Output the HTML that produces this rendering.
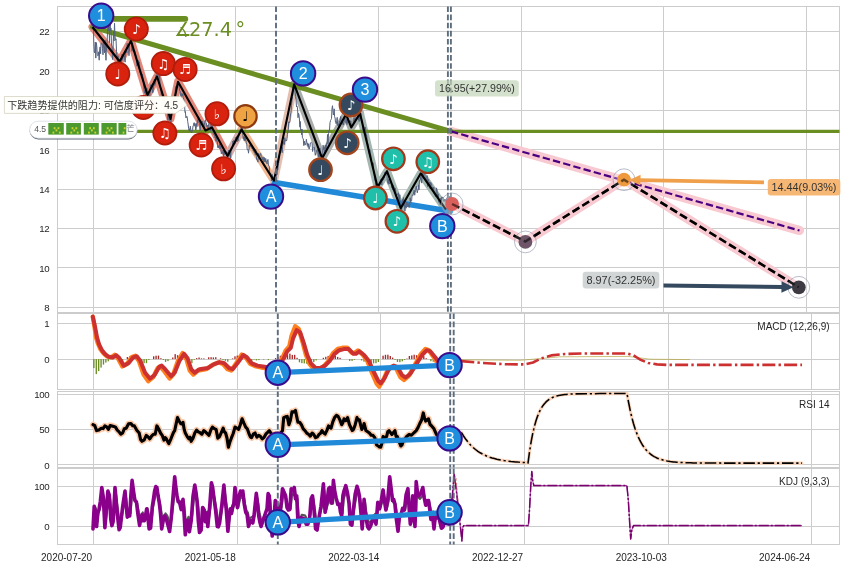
<!DOCTYPE html>
<html lang="zh">
<head>
<meta charset="utf-8">
<title>Elliott wave chart</title>
<style>
html,body{margin:0;padding:0;background:#ffffff;}
body{width:845px;height:568px;overflow:hidden;font-family:"Liberation Sans","Noto Sans CJK SC",sans-serif;}
svg text{white-space:pre;}
</style>
</head>
<body>
<svg width="845" height="568" viewBox="0 0 845 568" style="display:block">
<rect width="845" height="568" fill="#ffffff"/>
<defs>
<clipPath id="c_main"><rect x="57.5" y="6.5" width="782" height="306"/></clipPath>
<clipPath id="c_macd"><rect x="57.5" y="313.5" width="782" height="76"/></clipPath>
<clipPath id="c_rsi"><rect x="57.5" y="391.5" width="782" height="76"/></clipPath>
<clipPath id="c_kdj"><rect x="57.5" y="468.5" width="782" height="76"/></clipPath>
</defs>
<rect x="57.5" y="6.5" width="782" height="306" fill="#ffffff" stroke="none"/>
<line x1="93.5" y1="6.5" x2="93.5" y2="312.5" stroke="#cdcdcd" stroke-width="1" />
<line x1="235.5" y1="6.5" x2="235.5" y2="312.5" stroke="#cdcdcd" stroke-width="1" />
<line x1="378.5" y1="6.5" x2="378.5" y2="312.5" stroke="#cdcdcd" stroke-width="1" />
<line x1="521.5" y1="6.5" x2="521.5" y2="312.5" stroke="#cdcdcd" stroke-width="1" />
<line x1="663.5" y1="6.5" x2="663.5" y2="312.5" stroke="#cdcdcd" stroke-width="1" />
<line x1="806.5" y1="6.5" x2="806.5" y2="312.5" stroke="#cdcdcd" stroke-width="1" />
<line x1="57.5" y1="31.5" x2="839.5" y2="31.5" stroke="#cdcdcd" stroke-width="1" />
<text x="49.3" y="35.4" font-size="9.7" text-anchor="end" fill="#262626" font-family='"Liberation Sans", "Noto Sans CJK SC", sans-serif' letter-spacing="-0.35">22</text>
<line x1="57.5" y1="70.5" x2="839.5" y2="70.5" stroke="#cdcdcd" stroke-width="1" />
<text x="49.3" y="74.8" font-size="9.7" text-anchor="end" fill="#262626" font-family='"Liberation Sans", "Noto Sans CJK SC", sans-serif' letter-spacing="-0.35">20</text>
<line x1="57.5" y1="110.5" x2="839.5" y2="110.5" stroke="#cdcdcd" stroke-width="1" />
<text x="49.3" y="114.2" font-size="9.7" text-anchor="end" fill="#262626" font-family='"Liberation Sans", "Noto Sans CJK SC", sans-serif' letter-spacing="-0.35">18</text>
<line x1="57.5" y1="149.5" x2="839.5" y2="149.5" stroke="#cdcdcd" stroke-width="1" />
<text x="49.3" y="153.6" font-size="9.7" text-anchor="end" fill="#262626" font-family='"Liberation Sans", "Noto Sans CJK SC", sans-serif' letter-spacing="-0.35">16</text>
<line x1="57.5" y1="189.5" x2="839.5" y2="189.5" stroke="#cdcdcd" stroke-width="1" />
<text x="49.3" y="193" font-size="9.7" text-anchor="end" fill="#262626" font-family='"Liberation Sans", "Noto Sans CJK SC", sans-serif' letter-spacing="-0.35">14</text>
<line x1="57.5" y1="228.5" x2="839.5" y2="228.5" stroke="#cdcdcd" stroke-width="1" />
<text x="49.3" y="232.4" font-size="9.7" text-anchor="end" fill="#262626" font-family='"Liberation Sans", "Noto Sans CJK SC", sans-serif' letter-spacing="-0.35">12</text>
<line x1="57.5" y1="267.5" x2="839.5" y2="267.5" stroke="#cdcdcd" stroke-width="1" />
<text x="49.3" y="271.8" font-size="9.7" text-anchor="end" fill="#262626" font-family='"Liberation Sans", "Noto Sans CJK SC", sans-serif' letter-spacing="-0.35">10</text>
<line x1="57.5" y1="307.5" x2="839.5" y2="307.5" stroke="#cdcdcd" stroke-width="1" />
<text x="49.3" y="311.2" font-size="9.7" text-anchor="end" fill="#262626" font-family='"Liberation Sans", "Noto Sans CJK SC", sans-serif' letter-spacing="-0.35">8</text>
<rect x="57.5" y="313.5" width="782" height="76" fill="#ffffff" stroke="none"/>
<line x1="93.5" y1="313.5" x2="93.5" y2="389.5" stroke="#cdcdcd" stroke-width="1" />
<line x1="237.5" y1="313.5" x2="237.5" y2="389.5" stroke="#cdcdcd" stroke-width="1" />
<line x1="380.5" y1="313.5" x2="380.5" y2="389.5" stroke="#cdcdcd" stroke-width="1" />
<line x1="524.5" y1="313.5" x2="524.5" y2="389.5" stroke="#cdcdcd" stroke-width="1" />
<line x1="668.5" y1="313.5" x2="668.5" y2="389.5" stroke="#cdcdcd" stroke-width="1" />
<line x1="811.5" y1="313.5" x2="811.5" y2="389.5" stroke="#cdcdcd" stroke-width="1" />
<line x1="57.5" y1="323.5" x2="839.5" y2="323.5" stroke="#cdcdcd" stroke-width="1" />
<text x="49.3" y="327.2" font-size="9.7" text-anchor="end" fill="#262626" font-family='"Liberation Sans", "Noto Sans CJK SC", sans-serif' letter-spacing="-0.35">1</text>
<line x1="57.5" y1="359.5" x2="839.5" y2="359.5" stroke="#cdcdcd" stroke-width="1" />
<text x="49.3" y="363.1" font-size="9.7" text-anchor="end" fill="#262626" font-family='"Liberation Sans", "Noto Sans CJK SC", sans-serif' letter-spacing="-0.35">0</text>
<rect x="57.5" y="391.5" width="782" height="76" fill="#ffffff" stroke="none"/>
<line x1="93.5" y1="391.5" x2="93.5" y2="467.5" stroke="#cdcdcd" stroke-width="1" />
<line x1="237.5" y1="391.5" x2="237.5" y2="467.5" stroke="#cdcdcd" stroke-width="1" />
<line x1="380.5" y1="391.5" x2="380.5" y2="467.5" stroke="#cdcdcd" stroke-width="1" />
<line x1="524.5" y1="391.5" x2="524.5" y2="467.5" stroke="#cdcdcd" stroke-width="1" />
<line x1="668.5" y1="391.5" x2="668.5" y2="467.5" stroke="#cdcdcd" stroke-width="1" />
<line x1="811.5" y1="391.5" x2="811.5" y2="467.5" stroke="#cdcdcd" stroke-width="1" />
<line x1="57.5" y1="394.5" x2="839.5" y2="394.5" stroke="#cdcdcd" stroke-width="1" />
<text x="49.3" y="398.4" font-size="9.7" text-anchor="end" fill="#262626" font-family='"Liberation Sans", "Noto Sans CJK SC", sans-serif' letter-spacing="-0.35">100</text>
<line x1="57.5" y1="429.5" x2="839.5" y2="429.5" stroke="#cdcdcd" stroke-width="1" />
<text x="49.3" y="433.3" font-size="9.7" text-anchor="end" fill="#262626" font-family='"Liberation Sans", "Noto Sans CJK SC", sans-serif' letter-spacing="-0.35">50</text>
<line x1="57.5" y1="464.5" x2="839.5" y2="464.5" stroke="#cdcdcd" stroke-width="1" />
<text x="49.3" y="468.5" font-size="9.7" text-anchor="end" fill="#262626" font-family='"Liberation Sans", "Noto Sans CJK SC", sans-serif' letter-spacing="-0.35">0</text>
<rect x="57.5" y="468.5" width="782" height="76" fill="#ffffff" stroke="none"/>
<line x1="93.5" y1="468.5" x2="93.5" y2="544.5" stroke="#cdcdcd" stroke-width="1" />
<line x1="237.5" y1="468.5" x2="237.5" y2="544.5" stroke="#cdcdcd" stroke-width="1" />
<line x1="380.5" y1="468.5" x2="380.5" y2="544.5" stroke="#cdcdcd" stroke-width="1" />
<line x1="524.5" y1="468.5" x2="524.5" y2="544.5" stroke="#cdcdcd" stroke-width="1" />
<line x1="668.5" y1="468.5" x2="668.5" y2="544.5" stroke="#cdcdcd" stroke-width="1" />
<line x1="811.5" y1="468.5" x2="811.5" y2="544.5" stroke="#cdcdcd" stroke-width="1" />
<line x1="57.5" y1="486.5" x2="839.5" y2="486.5" stroke="#cdcdcd" stroke-width="1" />
<text x="49.3" y="490.3" font-size="9.7" text-anchor="end" fill="#262626" font-family='"Liberation Sans", "Noto Sans CJK SC", sans-serif' letter-spacing="-0.35">100</text>
<line x1="57.5" y1="526.5" x2="839.5" y2="526.5" stroke="#cdcdcd" stroke-width="1" />
<text x="49.3" y="530" font-size="9.7" text-anchor="end" fill="#262626" font-family='"Liberation Sans", "Noto Sans CJK SC", sans-serif' letter-spacing="-0.35">0</text>
<rect x="57.5" y="6.5" width="782" height="306" fill="none" stroke="#cccccc" stroke-width="1"/>
<rect x="57.5" y="313.5" width="782" height="76" fill="none" stroke="#cccccc" stroke-width="1"/>
<rect x="57.5" y="391.5" width="782" height="76" fill="none" stroke="#cccccc" stroke-width="1"/>
<rect x="57.5" y="468.5" width="782" height="76" fill="none" stroke="#cccccc" stroke-width="1"/>
<polyline points="452.1,204 525.3,241.5 624,179.7 798.8,287.3" fill="none" stroke="#f8c9d0" stroke-width="9.2" stroke-linecap="round" stroke-linejoin="round"/>
<polyline points="451,131.4 799.5,230.5" fill="none" stroke="#f8c9d0" stroke-width="9.2" stroke-linecap="round"/>
<polyline points="92.5,27 119.6,61.5 131,41 147.5,95 157,76.5 170.5,119 178,81.7 205.5,130.5 212,127.5 227.5,156" fill="none" stroke="#e2887a" stroke-width="8" stroke-linecap="round" stroke-linejoin="round"/>
<polyline points="227.5,156 241.6,129.6" fill="none" stroke="#d4afad" stroke-width="8" stroke-linecap="round" stroke-linejoin="round"/>
<polyline points="241.6,129.6 274,180.6" fill="none" stroke="#f1b790" stroke-width="8" stroke-linecap="round" stroke-linejoin="round"/>
<polyline points="274,180.6 294.2,84.3" fill="none" stroke="#e4bfaf" stroke-width="8" stroke-linecap="round" stroke-linejoin="round"/>
<polyline points="294.2,84.3 322.2,158.3 346,114.3 351.3,127.5 360,113.4" fill="none" stroke="#a9adab" stroke-width="8" stroke-linecap="round" stroke-linejoin="round"/>
<polyline points="360,113.4 377.5,187 387,171.2 400.7,208.2 420.8,173.3 446,209.6" fill="none" stroke="#a3b7b0" stroke-width="8" stroke-linecap="round" stroke-linejoin="round"/>
<line x1="57.5" y1="131.4" x2="839.5" y2="131.4" stroke="#6b8e23" stroke-width="3.4" />
<line x1="92.5" y1="27" x2="451" y2="131.4" stroke="#6b8e23" stroke-width="5" stroke-linecap="round"/>
<line x1="101" y1="18.9" x2="185.3" y2="18.9" stroke="#6b8e23" stroke-width="5.8" stroke-linecap="round"/>
<text y="35.9" font-size="19.3" fill="#6b8e23" font-family='"DejaVu Sans", "Liberation Sans", sans-serif'><tspan x="174.3">∡</tspan><tspan x="189">27.4</tspan><tspan x="235.6">°</tspan></text>
<line x1="274.5" y1="182.6" x2="450.5" y2="211.3" stroke="#2089d8" stroke-width="5.6" stroke-linecap="round"/>
<polyline points="92.5,27 93,28.2 93.4,25.1 93.8,43.7 94.3,52 94.8,52.9 95.3,42.1 95.8,58.1 96.3,42.5 96.8,46.6 97.3,54.6 97.8,55.8 98.2,55.6 98.7,51.8 99.2,60.2 99.7,49.1 100.1,46.9 100.6,53.8 101,43.3 101.5,43.4 102,42.8 102.5,48.3 103,54.8 103.5,39.5 104,48.1 104.5,52.9 105,40.1 105.5,52.3 106,60.3 106.5,45.8 107,44.3 107.5,31.5 108,22.5 108.5,30.9 109,19.8 109.5,42.7 110,18.1 110.5,30.8 111,28.2 111.5,45 112,46.2 112.5,59.5 113,51.1 113.5,31.7 114,41 114.5,23.3 115,36 115.5,40.2 116,38.8 116.5,51.3 117,57.5 117.5,62.1 118,55.7 118.5,68.8 119.1,62.6 119.6,77.3 120.1,59.1 120.6,59.2 121,63.5 121.5,62.1 122,54.2 122.5,60.2 122.9,57.9 123.4,56.5 123.8,53.9 124.2,55.3 124.6,56.9 125.1,62.2 125.5,51.8 125.9,51.6 126.4,49.7 126.8,53.1 127.2,43.4 127.6,46.7 128.1,45 128.5,45.7 129,55.7 129.5,45.2 130,42.4 130.5,29.1 131,38.5 131.5,42.3 132,51.2 132.5,42.8 133,48.6 133.4,51.4 133.9,52.2 134.3,49.9 134.7,51 135.1,51.3 135.6,54.6 136,55.6 136.4,59.8 136.9,66.1 137.3,64.6 137.7,64.1 138.1,65.8 138.6,60.5 139,65.7 139.4,62.1 139.9,70 140.3,72.9 140.7,69.7 141.1,74.2 141.6,73 142,77.9 142.4,74.1 142.9,77.9 143.3,82.5 143.7,86.9 144.1,90.8 144.6,93.2 145,90.1 145.5,91.8 146,96.6 146.5,88 147,88.2 147.5,94.3 148,94.8 148.5,95.5 149,94.8 149.5,99.3 150,93.7 150.4,86.1 150.9,84.5 151.3,84.8 151.8,87.3 152.2,86.8 152.6,92.9 153.1,92 153.5,87 153.9,85.2 154.4,79.3 154.8,85.4 155.2,84.5 155.7,82 156.1,75.1 156.6,78.9 157,73.6 157.4,71.9 157.9,73.7 158.3,72.1 158.7,74.9 159.1,81.4 159.6,75.2 160,81.3 160.4,87.2 160.9,90.2 161.3,94.9 161.7,92.2 162.1,96.4 162.6,94.3 163,99.2 163.4,101.5 163.9,98.8 164.3,106.4 164.8,107.3 165.2,103.6 165.6,107.6 166.1,108.3 166.5,106.1 166.9,111.8 167.4,108.4 167.8,120 168.3,115.3 168.7,116.3 169.2,120.8 169.6,118.6 170.1,114.2 170.5,118.6 171,122.1 171.5,111.6 172,111.4 172.5,106 173,111.2 173.5,99.8 174,104.5 174.5,105.4 175,96.2 175.5,86.5 176,88.9 176.5,86 177,87.5 177.5,87.3 178,83.8 178.4,84.9 178.9,85 179.3,88 179.7,90.7 180.1,91 180.6,95.9 181,98.2 181.4,98.5 181.9,93.3 182.3,96 182.8,93.9 183.2,97.4 183.7,99.1 184.1,100.8 184.6,106 185,112.4 185.4,111.6 185.9,118 186.3,117.5 186.8,116.2 187.2,117.1 187.7,121.4 188.1,124 188.6,128.2 189,130.2 189.4,128.8 189.9,131.5 190.3,126.2 190.8,129.9 191.2,131.7 191.7,132.9 192.1,131.1 192.6,129.8 193,125.8 193.4,125.8 193.9,122.8 194.3,122.8 194.8,126.2 195.2,123.5 195.7,130 196.1,129 196.6,123.4 197,126.6 197.4,119.7 197.9,122.8 198.3,116.7 198.8,117.3 199.2,120.9 199.7,125.1 200.1,130.5 200.6,123.3 201,120.8 201.4,123.6 201.9,124.7 202.3,121.2 202.8,123.1 203.2,123.8 203.7,127.5 204.2,125.9 204.6,122.6 205.1,121 205.5,119.7 205.9,122.6 206.4,123.1 206.8,126.7 207.2,125.6 207.6,125.5 208.1,128.8 208.5,124.3 208.9,123.3 209.4,121.1 209.8,122.3 210.2,125.2 210.7,131.2 211.1,130 211.6,126.7 212,121.7 212.4,128.1 212.9,130.7 213.3,134.2 213.8,134.7 214.2,134.3 214.7,136.1 215.1,137.9 215.6,136.8 216,141.1 216.4,137.6 216.9,141.5 217.3,141.2 217.8,147.6 218.2,145.6 218.7,147.9 219.1,146.7 219.6,143.9 220,148.9 220.4,146.1 220.9,147.2 221.3,153.7 221.8,152.5 222.2,153.5 222.7,151.6 223.1,150 223.6,156.2 224,148.8 224.4,154.6 224.9,153.2 225.3,151.8 225.8,151 226.2,152.1 226.6,154.2 227.1,151.9 227.5,154.6 227.9,157.3 228.4,153.3 228.8,150 229.2,152.8 229.7,156.3 230.1,152.3 230.6,158.1 231,151.2 231.4,150.4 231.9,148.5 232.3,148.7 232.8,141 233.2,142.3 233.7,140.3 234.1,140.6 234.6,144.1 235,143.7 235.4,137.4 235.9,139.4 236.3,139 236.8,136.5 237.2,141.9 237.6,138.3 238.1,140.9 238.5,138.3 238.9,134.8 239.4,129.8 239.8,132.5 240.3,133.3 240.7,132.8 241.2,126.2 241.6,131.6 242,126.5 242.4,126.3 242.9,136.1 243.3,138.8 243.7,136.5 244.2,140.6 244.6,136.7 245,141 245.4,137.8 245.9,140.2 246.3,142.5 246.8,144.4 247.2,149.7 247.6,149.8 248.1,149.4 248.5,153.2 248.9,150.3 249.4,145.2 249.8,146.4 250.3,143.1 250.8,146.9 251.2,147.7 251.7,147.9 252.1,148.7 252.6,146.8 253,150.6 253.5,150 253.9,152.4 254.4,152.7 254.8,151.8 255.3,155.2 255.7,149.3 256.2,154.6 256.6,159.4 257.1,158.9 257.5,161.1 258,162.2 258.5,153.2 258.9,154.9 259.4,158.9 259.8,156.5 260.3,153.5 260.7,153.4 261.2,155.3 261.6,156.6 262.1,158.5 262.5,159.7 263,156.8 263.5,158.6 263.9,162.1 264.4,157.5 264.8,161.7 265.3,162.1 265.7,158.4 266.2,160.8 266.6,162.8 267.1,163.9 267.5,159.9 268,159.4 268.4,165 268.9,165.9 269.3,166.6 269.7,173.3 270.1,174.3 270.6,172.9 271,174.5 271.4,181 271.9,176.4 272.3,174.5 272.7,178.8 273.1,179.2 273.6,179.8 274,176.9 274.4,175.9 274.9,175 275.3,177 275.7,174.7 276.1,176.4 276.6,171.3 277,174.7 277.4,169.5 277.9,169.9 278.3,163.5 278.7,162.9 279.1,156.1 279.6,153.8 280,151.6 280.4,151.9 280.9,147.4 281.3,147.1 281.8,147.9 282.2,152.7 282.6,146.6 283.1,141.3 283.5,142.8 283.9,144.4 284.4,144.6 284.8,137.6 285.2,140.7 285.7,141.1 286.1,140 286.6,140.8 287,138.7 287.4,134.7 287.9,131.8 288.3,129.7 288.7,121.8 289.1,122.8 289.6,122.4 290,120.5 290.5,113.9 291,112.7 291.5,105.3 292,100.8 292.5,96.4 292.9,94.5 293.4,88.6 293.8,85.9 294.2,87.9 294.7,88.1 295.1,91.9 295.6,96.4 296,99.4 296.5,106.9 297,106.1 297.5,107.9 298,117.7 298.5,113.3 299,114.8 299.4,119 299.9,127.2 300.3,121.5 300.7,130.1 301.1,129.4 301.6,134.7 302,129.2 302.4,137.8 302.9,138.2 303.3,139 303.8,145.6 304.2,141 304.6,143.3 305.1,145.1 305.5,143.9 305.9,142.7 306.4,139.3 306.8,142.8 307.3,145.6 307.7,142.9 308.2,147.4 308.6,143.9 309.1,149.1 309.5,147.2 309.9,147.1 310.4,142.9 310.8,142.7 311.3,142.3 311.7,142.6 312.2,143.8 312.6,151.5 313.1,148.2 313.5,147.6 313.9,146.8 314.4,147.4 314.9,152.4 315.3,155.3 315.8,152.9 316.2,152.1 316.6,150.5 317.1,150.7 317.6,149.3 318,153.5 318.5,156.7 318.9,150.7 319.4,156.8 319.9,148.1 320.3,153.8 320.8,153.7 321.3,156.6 321.7,154.8 322.2,156.1 322.7,153.7 323.1,145.2 323.6,149.6 324,146.8 324.5,149.6 324.9,153.9 325.4,145 325.8,148.9 326.2,149.8 326.6,143.4 327.1,143.8 327.5,134.5 328,143.7 328.5,133.7 329,130.1 329.5,130.1 330,122.7 330.5,120.5 331,119.7 331.5,118.6 332,108.4 332.5,105.7 332.9,110.6 333.4,115 333.8,112.6 334.2,108.8 334.6,116.7 335.1,118 335.5,122.4 335.9,123.6 336.4,123.7 336.8,120.2 337.2,117.4 337.7,125.6 338.1,123.6 338.6,126.7 339,125.7 339.4,120.9 339.9,124.9 340.3,118.9 340.8,116.4 341.2,121.2 341.6,121.4 342.1,124 342.5,119.8 342.9,124.8 343.4,124.9 343.8,122 344.2,122 344.7,115.4 345.1,116.8 345.6,116.5 346,123 346.5,119.5 347,124.6 347.5,120.1 348,118.6 348.5,120.5 349,121.8 349.4,122 349.9,120.5 350.4,122 350.8,120.9 351.3,123.8 351.8,124.8 352.2,126.1 352.6,124.4 353.1,123.7 353.6,119.5 354,117.9 354.4,118.9 354.9,120.4 355.3,114.7 355.7,109 356.1,107.1 356.6,107.4 357,106.5 357.4,107.6 357.9,112.9 358.3,119.9 358.7,116.6 359.1,121.5 359.6,116.6 360,116.1 360.5,114.2 361,113.6 361.5,121.4 362,119.9 362.5,123.9 362.9,130.9 363.4,133.1 363.8,131.7 364.2,131.4 364.6,132.9 365.1,127 365.5,128.2 365.9,133.3 366.4,134.5 366.8,136.4 367.2,141.5 367.6,143.2 368.1,144.1 368.5,150 368.9,151.1 369.4,154.1 369.8,149.6 370.2,152.4 370.6,154.3 371.1,158.6 371.5,160.7 371.9,164.5 372.4,162.7 372.8,167.8 373.2,162.8 373.6,170.5 374.1,171.6 374.5,178.2 374.9,180.8 375.4,180.2 375.8,186.7 376.2,191.7 376.6,185.7 377.1,184.2 377.5,185.3 377.9,187 378.4,186.6 378.8,187 379.2,187.6 379.6,182.2 380.1,185.1 380.5,179.5 380.9,180 381.4,179.5 381.8,184.9 382.2,178 382.6,180.8 383.1,178.1 383.5,179.9 383.9,178.5 384.4,178 384.8,172.3 385.2,174 385.7,174.1 386.1,171.5 386.6,171.6 387,176.2 387.4,182.5 387.9,181.7 388.3,184.3 388.7,179.3 389.1,182.1 389.6,183.8 390,182.9 390.4,180.8 390.9,181.6 391.3,181.1 391.8,187.9 392.2,185.1 392.6,190 393.1,184.9 393.5,187 393.9,186.7 394.4,188.3 394.8,191.1 395.2,188.1 395.7,190.5 396.1,196.5 396.6,195.8 397,194.2 397.5,194.2 397.9,194.7 398.4,192.8 398.9,200.5 399.3,201.2 399.8,194.7 400.2,205.1 400.7,210.4 401.2,210.5 401.6,211.1 402.1,202.5 402.6,199.4 403.1,202.4 403.5,197.6 404,203.6 404.4,201 404.9,211.3 405.3,207 405.8,206.1 406.2,208.2 406.7,202.1 407.1,202.3 407.6,205.5 408,207 408.4,206.9 408.9,203.2 409.3,207.4 409.8,203.9 410.2,197.7 410.7,202.6 411.1,200 411.6,200.5 412,196.3 412.4,194.7 412.9,195.4 413.3,194.6 413.8,191.7 414.2,190.2 414.7,195.2 415.1,192.2 415.6,190.9 416,187.3 416.4,186 416.9,190.7 417.3,192.8 417.7,190.3 418.1,190.3 418.6,184.8 419,189.8 419.4,180.9 419.9,179.9 420.4,179.5 420.8,176.3 421.3,180 421.7,183.1 422.2,175.2 422.6,172 423.1,174.3 423.5,178.4 424,173.1 424.4,171.9 424.9,174.7 425.3,179.1 425.8,179.7 426.2,179.9 426.7,178.5 427.1,175.6 427.6,186.5 428,181.8 428.4,179.3 428.9,181.3 429.3,185.3 429.8,182.1 430.2,188.9 430.7,182.5 431.1,183.7 431.6,183.9 432,188.3 432.4,187.3 432.9,187.9 433.3,189.6 433.8,187.2 434.2,193.8 434.7,192.6 435.1,195.7 435.6,196.7 436,194.1 436.4,187.9 436.9,189.3 437.3,193.6 437.8,196.7 438.2,193.8 438.7,202.1 439.1,202.5 439.6,203.3 440,203.5 440.4,204.8 440.9,198.1 441.3,202.3 441.7,197.2 442.1,196.8 442.6,197.6 443,197.1 443.4,199.3 443.9,201.5 444.3,200.9 444.7,199.1 445.1,201.5 445.6,199.4 446,201.9 446.4,203 446.9,197.8 447.3,205.3 447.7,205.8 448.1,204.5 448.6,205.4 449,206.2 449.4,196.4 449.9,202.4 450.3,200.6 450.7,199 451.1,200.5 451.6,205.1 452,209.8" fill="none" stroke="#54627f" stroke-width="1.0" stroke-linejoin="round" clip-path="url(#c_main)"/>
<polyline points="92.5,27 119.6,61.5 131,41 147.5,95 157,76.5 170.5,119 178,81.7 205.5,130.5 212,127.5 227.5,156 241.6,129.6 274,180.6 294.2,84.3 322.2,158.3 346,114.3 351.3,127.5 360,113.4 377.5,187 387,171.2 400.7,208.2 420.8,173.3 446,209.6" fill="none" stroke="#000000" stroke-width="2.1" stroke-linejoin="round"/>
<polyline points="452.1,204 525.3,241.5 624,179.7 798.8,287.3" fill="none" stroke="#000000" stroke-width="2.5" stroke-dasharray="8 3.5"/>
<polyline points="451,131.4 799.5,230.5" fill="none" stroke="#4b0082" stroke-width="2.2" stroke-dasharray="7.4 3.2"/>
<line x1="276" y1="6.5" x2="276" y2="312.5" stroke="#5d6d7e" stroke-width="1.9" stroke-dasharray="5.6 2.5"/>
<line x1="447.9" y1="6.5" x2="447.9" y2="312.5" stroke="#5d6d7e" stroke-width="1.9" stroke-dasharray="5.6 2.5"/>
<line x1="450.9" y1="6.5" x2="450.9" y2="312.5" stroke="#5d6d7e" stroke-width="1.9" stroke-dasharray="5.6 2.5"/>
<rect x="435" y="80.2" width="83.8" height="16.4" rx="3.2" fill="#c3d6b8" fill-opacity="0.72"/>
<circle cx="452.1" cy="204" r="10.9" fill="#ffffff" fill-opacity="0.25" stroke="#8a8ea8" stroke-width="0.6"/>
<circle cx="452.1" cy="204" r="6.9" fill="#d9605c"/>
<circle cx="525.4" cy="241.9" r="10.9" fill="#ffffff" fill-opacity="0.25" stroke="#8a8ea8" stroke-width="0.6"/>
<circle cx="525.4" cy="241.9" r="6.9" fill="#6e5468"/>
<circle cx="624" cy="179.7" r="10.9" fill="#ffffff" fill-opacity="0.25" stroke="#8a8ea8" stroke-width="0.6"/>
<circle cx="624" cy="179.7" r="6.9" fill="#f09a3e"/>
<circle cx="798.8" cy="287.3" r="10.9" fill="#ffffff" fill-opacity="0.25" stroke="#8a8ea8" stroke-width="0.6"/>
<circle cx="798.8" cy="287.3" r="6.9" fill="#3e3a44"/>
<polyline points="452.1,204 525.3,241.5 624,179.7 798.8,287.3" fill="none" stroke="#000000" stroke-width="2.5" stroke-dasharray="8 3.5" opacity="0.55"/>
<line x1="764" y1="182.4" x2="639" y2="180.1" stroke="#f0a04b" stroke-width="3.7" />
<polygon points="629.5,179.9 640.6,174.7 640.4,185.5" fill="#f0a04b"/>
<line x1="663.5" y1="285.4" x2="783" y2="287.1" stroke="#34495e" stroke-width="4" />
<polygon points="793.5,287.2 781.4,292.8 781.6,281.2" fill="#34495e"/>
<text x="476.9" y="92.1" font-size="10.6" text-anchor="middle" fill="#333333" font-family='"Liberation Sans", "Noto Sans CJK SC", sans-serif' >16.95(+27.99%)</text>
<rect x="767.8" y="179" width="72.5" height="16.5" rx="3.2" fill="#f5b36e" fill-opacity="0.95"/>
<text x="804" y="190.9" font-size="10.8" text-anchor="middle" fill="#333333" font-family='"Liberation Sans", "Noto Sans CJK SC", sans-serif' >14.44(9.03%)</text>
<rect x="582.7" y="271.8" width="76.6" height="16.6" rx="3.2" fill="#d1d5d5" fill-opacity="1"/>
<text x="621" y="283.8" font-size="10.9" text-anchor="middle" fill="#333333" font-family='"Liberation Sans", "Noto Sans CJK SC", sans-serif' >8.97(-32.25%)</text>
<circle cx="117.8" cy="73.9" r="11.6" fill="#d9230f" stroke="#b01d0c" stroke-width="1.8"/>
<text x="117.8" y="78.8" font-size="13.5" text-anchor="middle" fill="#ffffff" font-family='"DejaVu Sans", "Liberation Sans", sans-serif' >♩</text>
<circle cx="136.3" cy="29" r="11.6" fill="#d9230f" stroke="#b01d0c" stroke-width="1.8"/>
<text x="136.3" y="33.9" font-size="13.5" text-anchor="middle" fill="#ffffff" font-family='"DejaVu Sans", "Liberation Sans", sans-serif' >♪</text>
<circle cx="143.4" cy="107.5" r="11.6" fill="#d9230f" stroke="#b01d0c" stroke-width="1.8"/>
<text x="143.4" y="112.4" font-size="13.5" text-anchor="middle" fill="#ffffff" font-family='"DejaVu Sans", "Liberation Sans", sans-serif' >♩</text>
<circle cx="163.3" cy="63.6" r="11.6" fill="#d9230f" stroke="#b01d0c" stroke-width="1.8"/>
<text x="163.3" y="68.5" font-size="13.5" text-anchor="middle" fill="#ffffff" font-family='"DejaVu Sans", "Liberation Sans", sans-serif' >♫</text>
<circle cx="164.9" cy="133" r="11.6" fill="#d9230f" stroke="#b01d0c" stroke-width="1.8"/>
<text x="164.9" y="137.9" font-size="13.5" text-anchor="middle" fill="#ffffff" font-family='"DejaVu Sans", "Liberation Sans", sans-serif' >♫</text>
<circle cx="185.1" cy="69.4" r="11.6" fill="#d9230f" stroke="#b01d0c" stroke-width="1.8"/>
<text x="185.1" y="74.3" font-size="13.5" text-anchor="middle" fill="#ffffff" font-family='"DejaVu Sans", "Liberation Sans", sans-serif' >♬</text>
<circle cx="201.2" cy="145" r="11.6" fill="#d9230f" stroke="#b01d0c" stroke-width="1.8"/>
<text x="201.2" y="149.9" font-size="13.5" text-anchor="middle" fill="#ffffff" font-family='"DejaVu Sans", "Liberation Sans", sans-serif' >♬</text>
<circle cx="217" cy="113.8" r="11.6" fill="#d9230f" stroke="#b01d0c" stroke-width="1.8"/>
<text x="217" y="118.7" font-size="13.5" text-anchor="middle" fill="#ffffff" font-family='"DejaVu Sans", "Liberation Sans", sans-serif' >♭</text>
<circle cx="223.6" cy="168.8" r="11.6" fill="#d9230f" stroke="#b01d0c" stroke-width="1.8"/>
<text x="223.6" y="173.7" font-size="13.5" text-anchor="middle" fill="#ffffff" font-family='"DejaVu Sans", "Liberation Sans", sans-serif' >♭</text>
<circle cx="245.5" cy="116.4" r="11.2" fill="#f0a342" stroke="#8e3a10" stroke-width="2.2"/>
<text x="245.5" y="121.3" font-size="13.5" text-anchor="middle" fill="#000000" font-family='"DejaVu Sans", "Liberation Sans", sans-serif' >♩</text>
<circle cx="320.5" cy="169.7" r="11.3" fill="#34495e" stroke="#a3441c" stroke-width="2.2"/>
<text x="320.5" y="174.6" font-size="13.5" text-anchor="middle" fill="#ffffff" font-family='"DejaVu Sans", "Liberation Sans", sans-serif' >♩</text>
<circle cx="351" cy="105" r="11.3" fill="#34495e" stroke="#a3441c" stroke-width="2.2"/>
<text x="351" y="109.9" font-size="13.5" text-anchor="middle" fill="#ffffff" font-family='"DejaVu Sans", "Liberation Sans", sans-serif' >♪</text>
<circle cx="347.2" cy="142.8" r="11.3" fill="#34495e" stroke="#a3441c" stroke-width="2.2"/>
<text x="347.2" y="147.7" font-size="13.5" text-anchor="middle" fill="#ffffff" font-family='"DejaVu Sans", "Liberation Sans", sans-serif' >♪</text>
<circle cx="375.4" cy="198" r="11.3" fill="#20bfa9" stroke="#a3381a" stroke-width="2.2"/>
<text x="375.4" y="202.9" font-size="13.5" text-anchor="middle" fill="#ffffff" font-family='"DejaVu Sans", "Liberation Sans", sans-serif' >♩</text>
<circle cx="393.4" cy="158.8" r="11.3" fill="#20bfa9" stroke="#a3381a" stroke-width="2.2"/>
<text x="393.4" y="163.7" font-size="13.5" text-anchor="middle" fill="#ffffff" font-family='"DejaVu Sans", "Liberation Sans", sans-serif' >♪</text>
<circle cx="396.9" cy="221.3" r="11.3" fill="#20bfa9" stroke="#a3381a" stroke-width="2.2"/>
<text x="396.9" y="226.2" font-size="13.5" text-anchor="middle" fill="#ffffff" font-family='"DejaVu Sans", "Liberation Sans", sans-serif' >♪</text>
<circle cx="427.8" cy="161.7" r="11.3" fill="#20bfa9" stroke="#a3381a" stroke-width="2.2"/>
<text x="427.8" y="166.6" font-size="13.5" text-anchor="middle" fill="#ffffff" font-family='"DejaVu Sans", "Liberation Sans", sans-serif' >♫</text>
<circle cx="101.2" cy="15.8" r="12.2" fill="#1f8fdd" stroke="#3a0c8c" stroke-width="2"/>
<text x="101.2" y="21.4" font-size="16" text-anchor="middle" fill="#ffffff" font-family='"Liberation Sans", "Noto Sans CJK SC", sans-serif' >1</text>
<circle cx="303.1" cy="73.4" r="12.2" fill="#1f8fdd" stroke="#3a0c8c" stroke-width="2"/>
<text x="303.1" y="79" font-size="16" text-anchor="middle" fill="#ffffff" font-family='"Liberation Sans", "Noto Sans CJK SC", sans-serif' >2</text>
<circle cx="365" cy="89.6" r="12.2" fill="#1f8fdd" stroke="#3a0c8c" stroke-width="2"/>
<text x="365" y="95.2" font-size="16" text-anchor="middle" fill="#ffffff" font-family='"Liberation Sans", "Noto Sans CJK SC", sans-serif' >3</text>
<circle cx="271" cy="196.6" r="12.2" fill="#1f8fdd" stroke="#3a0c8c" stroke-width="2"/>
<text x="271" y="202.2" font-size="16" text-anchor="middle" fill="#ffffff" font-family='"Liberation Sans", "Noto Sans CJK SC", sans-serif' >A</text>
<circle cx="442.3" cy="226.1" r="12.2" fill="#1f8fdd" stroke="#3a0c8c" stroke-width="2"/>
<text x="442.3" y="231.7" font-size="16" text-anchor="middle" fill="#ffffff" font-family='"Liberation Sans", "Noto Sans CJK SC", sans-serif' >B</text>
<polygon points="4.4,96.5 181,96.5 187,105.3 175.6,113.4 4.4,113.4" fill="#fffffb" fill-opacity="0.98" stroke="#cfcdb8" stroke-width="0.7" stroke-linejoin="round"/>
<text x="7.2" y="109.2" font-size="10.1" text-anchor="start" fill="#333333" font-family='"Liberation Sans", "Noto Sans CJK SC", sans-serif' >下跌趋势提供的阻力: 可信度评分：4.5</text>
<rect x="29.6" y="122" width="107.6" height="17.4" rx="8.7" fill="#3c4458" fill-opacity="0.85"/>
<rect x="29.6" y="121.2" width="107.6" height="17" rx="8.5" fill="#ffffff" stroke="#d8dadf" stroke-width="0.8"/>
<text x="34.2" y="132.4" font-size="8.6" text-anchor="start" fill="#555555" font-family='"Liberation Sans", "Noto Sans CJK SC", sans-serif' >4.5</text>
<text x="126.2" y="131.4" font-size="8.4" text-anchor="start" fill="#7b7f88" font-family='"Liberation Sans", "Noto Sans CJK SC", sans-serif' >芒</text>
<rect x="48.3" y="123" width="15.5" height="11.6" fill="#4c9a2f"/>
<rect x="53.7" y="127.2" width="1.8" height="2" fill="#d9d92b" opacity="0.9"/>
<rect x="57.5" y="127.2" width="1.8" height="2" fill="#d9d92b" opacity="0.9"/>
<rect x="52.5" y="131.6" width="1.8" height="2" fill="#d9d92b" opacity="0.9"/>
<rect x="58.9" y="131.6" width="1.8" height="2" fill="#d9d92b" opacity="0.9"/>
<rect x="55.5" y="129.4" width="1.8" height="2" fill="#d9d92b" opacity="0.9"/>
<rect x="66.2" y="123" width="14.7" height="11.6" fill="#4c9a2f"/>
<rect x="71.6" y="127.2" width="1.8" height="2" fill="#d9d92b" opacity="0.9"/>
<rect x="75.4" y="127.2" width="1.8" height="2" fill="#d9d92b" opacity="0.9"/>
<rect x="70.4" y="131.6" width="1.8" height="2" fill="#d9d92b" opacity="0.9"/>
<rect x="76.8" y="131.6" width="1.8" height="2" fill="#d9d92b" opacity="0.9"/>
<rect x="73.4" y="129.4" width="1.8" height="2" fill="#d9d92b" opacity="0.9"/>
<rect x="83.8" y="123" width="15" height="11.6" fill="#4c9a2f"/>
<rect x="89.2" y="127.2" width="1.8" height="2" fill="#d9d92b" opacity="0.9"/>
<rect x="93" y="127.2" width="1.8" height="2" fill="#d9d92b" opacity="0.9"/>
<rect x="88" y="131.6" width="1.8" height="2" fill="#d9d92b" opacity="0.9"/>
<rect x="94.4" y="131.6" width="1.8" height="2" fill="#d9d92b" opacity="0.9"/>
<rect x="91" y="129.4" width="1.8" height="2" fill="#d9d92b" opacity="0.9"/>
<rect x="101.4" y="123" width="15.3" height="11.6" fill="#4c9a2f"/>
<rect x="106.8" y="127.2" width="1.8" height="2" fill="#d9d92b" opacity="0.9"/>
<rect x="110.6" y="127.2" width="1.8" height="2" fill="#d9d92b" opacity="0.9"/>
<rect x="105.6" y="131.6" width="1.8" height="2" fill="#d9d92b" opacity="0.9"/>
<rect x="112" y="131.6" width="1.8" height="2" fill="#d9d92b" opacity="0.9"/>
<rect x="108.6" y="129.4" width="1.8" height="2" fill="#d9d92b" opacity="0.9"/>
<rect x="118.4" y="123" width="7.9" height="11.6" fill="#4c9a2f"/>
<rect x="123.8" y="127.2" width="1.8" height="2" fill="#d9d92b" opacity="0.9"/>
<rect x="122.6" y="131.6" width="1.8" height="2" fill="#d9d92b" opacity="0.9"/>
<rect x="93.2" y="359.1" width="1.35" height="9" fill="#6b8e23"/>
<rect x="95.6" y="359.1" width="1.35" height="15" fill="#6b8e23"/>
<rect x="98" y="359.1" width="1.35" height="12" fill="#6b8e23"/>
<rect x="100.4" y="359.1" width="1.35" height="8.5" fill="#6b8e23"/>
<rect x="102.8" y="359.1" width="1.35" height="5.5" fill="#6b8e23"/>
<rect x="105.2" y="359.1" width="1.35" height="3.5" fill="#6b8e23"/>
<rect x="107.6" y="359.1" width="1.35" height="2.2" fill="#6b8e23"/>
<rect x="112.4" y="358.6" width="1.35" height="0.5" fill="#a52a2a"/>
<rect x="117.2" y="359.1" width="1.35" height="2.2" fill="#6b8e23"/>
<rect x="119.5" y="359.1" width="1.35" height="3.6" fill="#6b8e23"/>
<rect x="121.9" y="359.1" width="1.35" height="2.7" fill="#6b8e23"/>
<rect x="126.7" y="357" width="1.35" height="2.1" fill="#a52a2a"/>
<rect x="129.1" y="356.3" width="1.35" height="2.8" fill="#a52a2a"/>
<rect x="131.5" y="356.2" width="1.35" height="2.9" fill="#a52a2a"/>
<rect x="133.9" y="357.7" width="1.35" height="1.4" fill="#a52a2a"/>
<rect x="136.3" y="359.1" width="1.35" height="0.8" fill="#6b8e23"/>
<rect x="138.7" y="359.1" width="1.35" height="3.8" fill="#6b8e23"/>
<rect x="141" y="359.1" width="1.35" height="4.1" fill="#6b8e23"/>
<rect x="143.4" y="359.1" width="1.35" height="4.1" fill="#6b8e23"/>
<rect x="145.8" y="359.1" width="1.35" height="4.1" fill="#6b8e23"/>
<rect x="148.2" y="359.1" width="1.35" height="0.9" fill="#6b8e23"/>
<rect x="153" y="356.3" width="1.35" height="2.8" fill="#a52a2a"/>
<rect x="155.4" y="355.7" width="1.35" height="3.4" fill="#a52a2a"/>
<rect x="157.8" y="355.6" width="1.35" height="3.5" fill="#a52a2a"/>
<rect x="160.2" y="358.2" width="1.35" height="0.9" fill="#a52a2a"/>
<rect x="162.6" y="359.1" width="1.35" height="0.9" fill="#6b8e23"/>
<rect x="164.9" y="359.1" width="1.35" height="2.8" fill="#6b8e23"/>
<rect x="167.3" y="359.1" width="1.35" height="2" fill="#6b8e23"/>
<rect x="172.1" y="357.5" width="1.35" height="1.6" fill="#a52a2a"/>
<rect x="174.5" y="354.1" width="1.35" height="5" fill="#a52a2a"/>
<rect x="176.9" y="355.2" width="1.35" height="3.9" fill="#a52a2a"/>
<rect x="179.3" y="355" width="1.35" height="4.1" fill="#a52a2a"/>
<rect x="181.7" y="356.7" width="1.35" height="2.4" fill="#a52a2a"/>
<rect x="184.1" y="359.1" width="1.35" height="0.9" fill="#6b8e23"/>
<rect x="186.5" y="359.1" width="1.35" height="4.4" fill="#6b8e23"/>
<rect x="188.8" y="359.1" width="1.35" height="4.6" fill="#6b8e23"/>
<rect x="191.2" y="359.1" width="1.35" height="4.1" fill="#6b8e23"/>
<rect x="193.6" y="359.1" width="1.35" height="0.7" fill="#6b8e23"/>
<rect x="196" y="358.1" width="1.35" height="1" fill="#a52a2a"/>
<rect x="198.4" y="357.5" width="1.35" height="1.6" fill="#a52a2a"/>
<rect x="200.8" y="358.4" width="1.35" height="0.7" fill="#a52a2a"/>
<rect x="203.2" y="358.4" width="1.35" height="0.7" fill="#a52a2a"/>
<rect x="208" y="357.3" width="1.35" height="1.8" fill="#a52a2a"/>
<rect x="210.4" y="357.2" width="1.35" height="1.9" fill="#a52a2a"/>
<rect x="212.7" y="357.4" width="1.35" height="1.7" fill="#a52a2a"/>
<rect x="215.1" y="357.2" width="1.35" height="1.9" fill="#a52a2a"/>
<rect x="219.9" y="358.3" width="1.35" height="0.8" fill="#a52a2a"/>
<rect x="222.3" y="359.1" width="1.35" height="1.1" fill="#6b8e23"/>
<rect x="224.7" y="359.1" width="1.35" height="1.7" fill="#6b8e23"/>
<rect x="227.1" y="359.1" width="1.35" height="2.6" fill="#6b8e23"/>
<rect x="231.9" y="358.4" width="1.35" height="0.7" fill="#a52a2a"/>
<rect x="234.3" y="356.3" width="1.35" height="2.8" fill="#a52a2a"/>
<rect x="236.6" y="355.6" width="1.35" height="3.5" fill="#a52a2a"/>
<rect x="239" y="355.3" width="1.35" height="3.8" fill="#a52a2a"/>
<rect x="241.4" y="357.4" width="1.35" height="1.7" fill="#a52a2a"/>
<rect x="246.2" y="359.1" width="1.35" height="2.5" fill="#6b8e23"/>
<rect x="248.6" y="359.1" width="1.35" height="2.8" fill="#6b8e23"/>
<rect x="251" y="359.1" width="1.35" height="2.8" fill="#6b8e23"/>
<rect x="253.4" y="359.1" width="1.35" height="0.5" fill="#6b8e23"/>
<rect x="255.8" y="359.1" width="1.35" height="1.3" fill="#6b8e23"/>
<rect x="258.2" y="359.1" width="1.35" height="1" fill="#6b8e23"/>
<rect x="262.9" y="359.1" width="1.35" height="0.5" fill="#6b8e23"/>
<rect x="267.7" y="359.1" width="1.35" height="1" fill="#6b8e23"/>
<rect x="274.9" y="358.1" width="1.35" height="1" fill="#a52a2a"/>
<rect x="277.3" y="356.9" width="1.35" height="2.2" fill="#a52a2a"/>
<rect x="279.7" y="355.7" width="1.35" height="3.4" fill="#a52a2a"/>
<rect x="282.1" y="354.6" width="1.35" height="4.5" fill="#a52a2a"/>
<rect x="284.4" y="355.6" width="1.35" height="3.5" fill="#a52a2a"/>
<rect x="286.8" y="354.4" width="1.35" height="4.7" fill="#a52a2a"/>
<rect x="289.2" y="353.6" width="1.35" height="5.5" fill="#a52a2a"/>
<rect x="291.6" y="354.9" width="1.35" height="4.2" fill="#a52a2a"/>
<rect x="294" y="354.8" width="1.35" height="4.3" fill="#a52a2a"/>
<rect x="296.4" y="357.8" width="1.35" height="1.3" fill="#a52a2a"/>
<rect x="298.8" y="359.1" width="1.35" height="3.2" fill="#6b8e23"/>
<rect x="301.2" y="359.1" width="1.35" height="4.1" fill="#6b8e23"/>
<rect x="303.6" y="359.1" width="1.35" height="4.3" fill="#6b8e23"/>
<rect x="306" y="359.1" width="1.35" height="4.5" fill="#6b8e23"/>
<rect x="308.3" y="359.1" width="1.35" height="4" fill="#6b8e23"/>
<rect x="310.7" y="359.1" width="1.35" height="3.9" fill="#6b8e23"/>
<rect x="313.1" y="359.1" width="1.35" height="3" fill="#6b8e23"/>
<rect x="315.5" y="359.1" width="1.35" height="1.3" fill="#6b8e23"/>
<rect x="322.7" y="357.8" width="1.35" height="1.3" fill="#a52a2a"/>
<rect x="325.1" y="356.8" width="1.35" height="2.3" fill="#a52a2a"/>
<rect x="327.5" y="355.9" width="1.35" height="3.2" fill="#a52a2a"/>
<rect x="329.9" y="355.9" width="1.35" height="3.2" fill="#a52a2a"/>
<rect x="332.2" y="355.5" width="1.35" height="3.6" fill="#a52a2a"/>
<rect x="334.6" y="356" width="1.35" height="3.1" fill="#a52a2a"/>
<rect x="337" y="356.9" width="1.35" height="2.2" fill="#a52a2a"/>
<rect x="339.4" y="357.8" width="1.35" height="1.3" fill="#a52a2a"/>
<rect x="349" y="359.1" width="1.35" height="1.8" fill="#6b8e23"/>
<rect x="351.4" y="359.1" width="1.35" height="1.8" fill="#6b8e23"/>
<rect x="353.8" y="359.1" width="1.35" height="0.7" fill="#6b8e23"/>
<rect x="360.9" y="359.1" width="1.35" height="1.4" fill="#6b8e23"/>
<rect x="363.3" y="359.1" width="1.35" height="2.6" fill="#6b8e23"/>
<rect x="365.7" y="359.1" width="1.35" height="3" fill="#6b8e23"/>
<rect x="368.1" y="359.1" width="1.35" height="4.4" fill="#6b8e23"/>
<rect x="370.5" y="359.1" width="1.35" height="4.7" fill="#6b8e23"/>
<rect x="372.9" y="359.1" width="1.35" height="4.3" fill="#6b8e23"/>
<rect x="375.3" y="359.1" width="1.35" height="4.1" fill="#6b8e23"/>
<rect x="377.7" y="359.1" width="1.35" height="2.9" fill="#6b8e23"/>
<rect x="382.4" y="355.7" width="1.35" height="3.4" fill="#a52a2a"/>
<rect x="384.8" y="354.8" width="1.35" height="4.3" fill="#a52a2a"/>
<rect x="387.2" y="354.7" width="1.35" height="4.4" fill="#a52a2a"/>
<rect x="389.6" y="356" width="1.35" height="3.1" fill="#a52a2a"/>
<rect x="392" y="357.6" width="1.35" height="1.5" fill="#a52a2a"/>
<rect x="394.4" y="359.1" width="1.35" height="0.8" fill="#6b8e23"/>
<rect x="396.8" y="359.1" width="1.35" height="2.8" fill="#6b8e23"/>
<rect x="399.2" y="359.1" width="1.35" height="3.1" fill="#6b8e23"/>
<rect x="401.6" y="359.1" width="1.35" height="2.2" fill="#6b8e23"/>
<rect x="403.9" y="359.1" width="1.35" height="0.8" fill="#6b8e23"/>
<rect x="406.3" y="358.6" width="1.35" height="0.5" fill="#a52a2a"/>
<rect x="408.7" y="356" width="1.35" height="3.1" fill="#a52a2a"/>
<rect x="411.1" y="355.4" width="1.35" height="3.7" fill="#a52a2a"/>
<rect x="413.5" y="354.7" width="1.35" height="4.4" fill="#a52a2a"/>
<rect x="415.9" y="355.2" width="1.35" height="3.9" fill="#a52a2a"/>
<rect x="418.3" y="354.7" width="1.35" height="4.4" fill="#a52a2a"/>
<rect x="420.7" y="355.9" width="1.35" height="3.2" fill="#a52a2a"/>
<rect x="423.1" y="356.1" width="1.35" height="3" fill="#a52a2a"/>
<rect x="425.5" y="358.2" width="1.35" height="0.9" fill="#a52a2a"/>
<rect x="430.2" y="359.1" width="1.35" height="2.1" fill="#6b8e23"/>
<rect x="432.6" y="359.1" width="1.35" height="2.6" fill="#6b8e23"/>
<rect x="435" y="359.1" width="1.35" height="3" fill="#6b8e23"/>
<rect x="437.4" y="359.1" width="1.35" height="2.5" fill="#6b8e23"/>
<rect x="439.8" y="359.1" width="1.35" height="2" fill="#6b8e23"/>
<rect x="442.2" y="359.1" width="1.35" height="0.7" fill="#6b8e23"/>
<polyline points="92.8,316.6 94.4,326.2 96.1,337.6 97.7,342.8 100.5,349.3 103.4,353.2 106.9,356.4 111.2,357.3 114.8,354.8 117.6,357.6 122.3,366.4 127,363.8 131.8,357.1 135.3,355.8 138.9,361.1 143.6,374.5 148.3,381.1 153.1,377.2 157.8,367.8 160.2,366.4 163.7,370.5 169.6,378.5 173.2,374.5 177.9,361.1 182.6,353.1 186.2,358.4 189.7,370.5 193.3,374.5 198,370.5 206.3,369.2 212.2,365.1 218.1,362.5 222.9,363.8 227.6,369.2 231.2,370.5 235.9,363.8 241.8,354.5 245.4,357.1 250.1,363.8 256,366.4 263.1,367.8 270.2,369.2 276.5,368 282.2,358.4 285.7,350.4 289.3,346.4 291.6,335.7 295.2,326.3 298.7,329 302.3,341 305.8,354.5 309.4,363.8 314.1,369.2 318.9,369.2 323.6,366.4 328.3,361.1 333.1,353.1 337.8,349 342.5,347.8 347.3,347.8 352,353.1 354.4,353.1 357.9,350.4 362.6,354.5 367.4,361.1 372.1,373.1 376.8,383.8 379.2,386.6 382.8,381.1 387.5,370.5 392.2,366.4 395.8,367.8 400.5,377.2 404.1,379.9 408.8,375.8 414.7,365.1 420.6,354.5 425.4,349 428.9,350.4 433.7,357.1 437.2,362.5 442.5,365.2 449.5,364.1" fill="none" stroke="#ff7f1e" stroke-width="4.4" stroke-linejoin="round" stroke-linecap="round" clip-path="url(#c_macd)"/>
<polyline points="92.8,316.6 94.9,326.2 97.1,337.6 99.2,344.7 102,350.4 104.9,353.9 108.4,356.7 112.7,357.5 116.3,355.3 119.1,357.8 123.8,365.6 128.5,363.3 133.3,357.3 136.8,356.2 140.4,360.9 145.1,372.7 149.8,378.6 154.6,375.1 159.3,366.8 161.7,365.6 165.2,369.2 171.1,376.3 174.7,372.7 179.4,360.9 184.1,353.8 187.7,358.5 191.2,369.2 194.8,372.7 199.5,369.2 207.8,368 213.7,364.4 219.6,362.1 224.4,363.3 229.1,368 232.7,369.2 237.4,363.3 243.3,355 246.9,357.3 251.6,363.3 257.5,365.6 264.6,366.8 271.7,368 278,367 283.7,358.5 287.2,351.4 290.8,347.9 293.1,338.4 296.7,330.1 300.2,332.5 303.8,343.1 307.3,355 310.9,363.3 315.6,368 320.4,368 325.1,365.6 329.8,360.9 334.6,353.8 339.3,350.2 344,349.1 348.8,349.1 353.5,353.8 355.9,353.8 359.4,351.4 364.1,355 368.9,360.9 373.6,371.5 378.3,381 380.7,383.4 384.3,378.6 389,369.2 393.7,365.6 397.3,366.8 402,375.1 405.6,377.5 410.3,373.9 416.2,364.4 422.1,355 426.9,350.2 430.4,351.4 435.2,357.3 438.7,362.1 444,364.5 451,363.5" fill="none" stroke="#cc3030" stroke-width="4.0" stroke-linejoin="round" stroke-linecap="round" clip-path="url(#c_macd)"/>
<polyline points="455,359.8 520,360.3 540,358.6 560,356.8 628,356.4 650,359.2 690,359.6" fill="none" stroke="#b0a030" stroke-width="0.8" opacity="0.8"/>
<polyline points="461.3,361.1 480,362.8 505,364.2 525.2,364.4 533,362.5 541,358.5 551.2,355.4 565,354 582,353.5 627,353.5 633,355 640,359.5 648.3,363 657,364.4 667,364.9 802,364.9" fill="none" stroke="#cc3030" stroke-width="2.6" stroke-dasharray="13 3.2 2.4 3.2" stroke-linejoin="round"/>
<text x="829.6" y="330.3" font-size="10" text-anchor="end" fill="#262626" font-family='"Liberation Sans", "Noto Sans CJK SC", sans-serif' >MACD (12,26,9)</text>
<polyline points="93,424.7 94.8,425.7 96.6,430.6 98.9,430 101.3,428.2 103.1,428.6 104.9,425.9 106.7,426.8 108.4,429.4 110.2,425.5 112,425.9 113.8,426.4 115.5,427.1 117.3,430.2 119.1,431.8 120.8,434.2 122.6,433 124.4,428.7 126.2,428.2 128.6,423.8 130.9,423.5 132.7,425.8 134.4,425.9 136.8,430.2 139.2,433 140.6,439.6 142,441.3 144.2,439.9 146.3,435.3 148.1,436.9 149.8,438.9 151.6,436.1 153.4,434.2 155.2,434.2 156.9,425.9 158.7,429 160.5,433 162.2,435.3 164,440.1 165.2,437.7 166.4,438.9 167.6,441.4 168.8,443.6 170.6,439.7 172.3,435.3 173.5,432.4 174.7,430.6 176.1,424 177.5,417.6 179.1,421 180.6,423.5 181.8,424 183,422.3 184.2,429.4 185.3,433 187.1,436.3 188.9,438.9 190.1,437.2 191.2,441.3 193,438.3 194.8,433 196.6,430.1 198.3,431.8 200.1,432.7 201.9,434.2 203.7,430.6 205.4,431.8 207.2,433.6 209,435.3 210.8,430 212.5,427.1 214.3,428.6 216.1,429.4 217.8,438.2 219.6,436.5 221.4,432.3 223.2,428.2 224.4,431.9 225.6,433 227,438 228.4,447.2 229.9,442 231.5,437.7 233.2,433.5 235,427.1 236.8,428.1 238.6,429.4 240.3,424.7 242.1,418.8 243.9,423.1 245.7,427.1 247.4,429 249.2,434.2 250.4,436.9 251.6,437.7 253.3,434.1 255.1,433 256.9,437.1 258.7,435.3 260.4,436.3 262.2,438.9 264,437.6 265.8,434.2 267.6,432.4 269.3,430.6 271.8,434.5 274.2,435.3 276.1,433.7 278,434 280.2,433.9 282.5,430.6 283.7,417.6 285.4,416.8 287.2,416.4 288.9,424.7 290.4,420.2 292,411.7 293.8,412.1 295.5,410.5 296.7,416.6 297.9,422.3 299.6,422.3 301.4,424.7 303.2,428.9 305,430.6 306.8,433.1 308.5,434.2 310.3,436.2 312.1,433 313.9,434.7 315.6,437.7 317.4,436.8 319.2,434.2 320.6,433.2 322,430.6 323.6,432.9 325.1,434.2 326.9,430.4 328.6,425.9 329.8,427.3 331,428.2 332.8,421.9 334.6,417.6 336.4,415.4 338.1,416.4 339.9,419.9 341.7,424.7 342.9,422.7 344,418.8 345.8,420.6 347.6,417.6 349.4,424.5 351.1,428.2 352.3,430.5 353.5,429.4 355.2,424.7 357,417.6 358.2,419.9 359.4,419.9 360.6,424.9 361.8,429.4 363,427.7 364.1,423.5 365.9,430.5 367.7,431.8 369.4,433 371.2,435.3 373,435.4 374.8,437.7 376.6,445 378.3,446 379.5,447 380.7,447.2 381.9,443.4 383.1,436.5 384.9,437.9 386.6,436.5 387.8,431.7 389,430.6 391.9,434.5 394.9,430.6 396.1,436.4 397.3,436.5 399.1,441.5 400.8,446 402,444.9 403.2,441.3 404.9,439.1 406.7,436.5 409.1,434.5 411.5,435.3 413.9,432.8 416.2,430.6 418,427.6 419.8,423.5 421.6,420 423.3,412.9 424.5,418.1 425.7,421.1 427.1,420 428.5,418.8 430.1,424.5 431.6,425.9 434,428.8 436.3,434.2 438.6,436.9 441,437 444,438.3 447,436 449.5,434 452,433" fill="none" stroke="#f9c7a6" stroke-width="6.2" stroke-linejoin="round" stroke-linecap="round"/>
<polyline points="93,424.7 94.8,425.7 96.6,430.6 98.9,430 101.3,428.2 103.1,428.6 104.9,425.9 106.7,426.8 108.4,429.4 110.2,425.5 112,425.9 113.8,426.4 115.5,427.1 117.3,430.2 119.1,431.8 120.8,434.2 122.6,433 124.4,428.7 126.2,428.2 128.6,423.8 130.9,423.5 132.7,425.8 134.4,425.9 136.8,430.2 139.2,433 140.6,439.6 142,441.3 144.2,439.9 146.3,435.3 148.1,436.9 149.8,438.9 151.6,436.1 153.4,434.2 155.2,434.2 156.9,425.9 158.7,429 160.5,433 162.2,435.3 164,440.1 165.2,437.7 166.4,438.9 167.6,441.4 168.8,443.6 170.6,439.7 172.3,435.3 173.5,432.4 174.7,430.6 176.1,424 177.5,417.6 179.1,421 180.6,423.5 181.8,424 183,422.3 184.2,429.4 185.3,433 187.1,436.3 188.9,438.9 190.1,437.2 191.2,441.3 193,438.3 194.8,433 196.6,430.1 198.3,431.8 200.1,432.7 201.9,434.2 203.7,430.6 205.4,431.8 207.2,433.6 209,435.3 210.8,430 212.5,427.1 214.3,428.6 216.1,429.4 217.8,438.2 219.6,436.5 221.4,432.3 223.2,428.2 224.4,431.9 225.6,433 227,438 228.4,447.2 229.9,442 231.5,437.7 233.2,433.5 235,427.1 236.8,428.1 238.6,429.4 240.3,424.7 242.1,418.8 243.9,423.1 245.7,427.1 247.4,429 249.2,434.2 250.4,436.9 251.6,437.7 253.3,434.1 255.1,433 256.9,437.1 258.7,435.3 260.4,436.3 262.2,438.9 264,437.6 265.8,434.2 267.6,432.4 269.3,430.6 271.8,434.5 274.2,435.3 276.1,433.7 278,434 280.2,433.9 282.5,430.6 283.7,417.6 285.4,416.8 287.2,416.4 288.9,424.7 290.4,420.2 292,411.7 293.8,412.1 295.5,410.5 296.7,416.6 297.9,422.3 299.6,422.3 301.4,424.7 303.2,428.9 305,430.6 306.8,433.1 308.5,434.2 310.3,436.2 312.1,433 313.9,434.7 315.6,437.7 317.4,436.8 319.2,434.2 320.6,433.2 322,430.6 323.6,432.9 325.1,434.2 326.9,430.4 328.6,425.9 329.8,427.3 331,428.2 332.8,421.9 334.6,417.6 336.4,415.4 338.1,416.4 339.9,419.9 341.7,424.7 342.9,422.7 344,418.8 345.8,420.6 347.6,417.6 349.4,424.5 351.1,428.2 352.3,430.5 353.5,429.4 355.2,424.7 357,417.6 358.2,419.9 359.4,419.9 360.6,424.9 361.8,429.4 363,427.7 364.1,423.5 365.9,430.5 367.7,431.8 369.4,433 371.2,435.3 373,435.4 374.8,437.7 376.6,445 378.3,446 379.5,447 380.7,447.2 381.9,443.4 383.1,436.5 384.9,437.9 386.6,436.5 387.8,431.7 389,430.6 391.9,434.5 394.9,430.6 396.1,436.4 397.3,436.5 399.1,441.5 400.8,446 402,444.9 403.2,441.3 404.9,439.1 406.7,436.5 409.1,434.5 411.5,435.3 413.9,432.8 416.2,430.6 418,427.6 419.8,423.5 421.6,420 423.3,412.9 424.5,418.1 425.7,421.1 427.1,420 428.5,418.8 430.1,424.5 431.6,425.9 434,428.8 436.3,434.2 438.6,436.9 441,437 444,438.3 447,436 449.5,434 452,433" fill="none" stroke="#000000" stroke-width="3.1" stroke-linejoin="round" stroke-linecap="round"/>
<polyline points="461.3,432.3 463.7,436.2 466,439.6 468.4,442.6 470.8,445.3 473.1,447.5 475.5,449.5 477.9,451.3 480.2,452.8 482.6,454.1 485,455.3 487.3,456.3 489.7,457.2 492.1,458 494.4,458.6 496.8,459.2 499.2,459.7 501.5,460.2 503.9,460.6 506.3,460.9 508.6,461.2 511,461.5 513.4,461.7 515.7,461.9 518.1,462.1 520.5,462.2 522.8,462.4 525.2,462.5 527.5,463.2 528,463.2 529.6,451.3 531.2,441.4 532.8,433.2 534.4,426.4 536,420.8 537.6,416.1 539.2,412.2 540.8,409 542.4,406.4 544,404.2 545.6,402.4 547.2,400.9 548.8,399.6 550.4,398.6 552,397.7 553.6,397 555.2,396.4 556.8,396 558.4,395.5 560,395.2 561.6,394.9 563.2,394.7 564.8,394.5 566.4,394.4 568,394.2 569.6,394.1 571.2,394 572.8,394 574.4,393.9 600,393.6 627,393.5 628.6,402.5 630.2,410.4 631.8,417.3 633.4,423.2 635,428.4 636.6,432.9 638.2,436.8 639.8,440.2 641.4,443.2 643,445.8 644.6,448 646.2,450 647.8,451.7 649.4,453.2 651,454.5 652.6,455.6 654.2,456.6 655.8,457.4 657.4,458.2 659,458.8 660.6,459.4 662.2,459.8 663.8,460.3 665.4,460.6 667,461 668.6,461.2 670.2,461.5 671.8,461.7 673.4,461.9 675,462 676.6,462.2 678.2,462.3 679.8,462.4 681.4,462.5 683,462.6 684.6,462.6 686.2,462.7 687.8,462.7 689.4,462.8 691,462.8 692.6,462.9 694.2,462.9 695.8,462.9 697.4,462.9 720,463.1 802,463.1" fill="none" stroke="#fbd5bb" stroke-width="3.2" stroke-linejoin="round" stroke-linecap="round"/>
<polyline points="461.3,432.3 463.7,436.2 466,439.6 468.4,442.6 470.8,445.3 473.1,447.5 475.5,449.5 477.9,451.3 480.2,452.8 482.6,454.1 485,455.3 487.3,456.3 489.7,457.2 492.1,458 494.4,458.6 496.8,459.2 499.2,459.7 501.5,460.2 503.9,460.6 506.3,460.9 508.6,461.2 511,461.5 513.4,461.7 515.7,461.9 518.1,462.1 520.5,462.2 522.8,462.4 525.2,462.5 527.5,463.2 528,463.2 529.6,451.3 531.2,441.4 532.8,433.2 534.4,426.4 536,420.8 537.6,416.1 539.2,412.2 540.8,409 542.4,406.4 544,404.2 545.6,402.4 547.2,400.9 548.8,399.6 550.4,398.6 552,397.7 553.6,397 555.2,396.4 556.8,396 558.4,395.5 560,395.2 561.6,394.9 563.2,394.7 564.8,394.5 566.4,394.4 568,394.2 569.6,394.1 571.2,394 572.8,394 574.4,393.9 600,393.6 627,393.5 628.6,402.5 630.2,410.4 631.8,417.3 633.4,423.2 635,428.4 636.6,432.9 638.2,436.8 639.8,440.2 641.4,443.2 643,445.8 644.6,448 646.2,450 647.8,451.7 649.4,453.2 651,454.5 652.6,455.6 654.2,456.6 655.8,457.4 657.4,458.2 659,458.8 660.6,459.4 662.2,459.8 663.8,460.3 665.4,460.6 667,461 668.6,461.2 670.2,461.5 671.8,461.7 673.4,461.9 675,462 676.6,462.2 678.2,462.3 679.8,462.4 681.4,462.5 683,462.6 684.6,462.6 686.2,462.7 687.8,462.7 689.4,462.8 691,462.8 692.6,462.9 694.2,462.9 695.8,462.9 697.4,462.9 720,463.1 802,463.1" fill="none" stroke="#000000" stroke-width="1.55" stroke-dasharray="11.5 2.8 2.2 2.8" stroke-linejoin="round"/>
<text x="829.6" y="408.3" font-size="10" text-anchor="end" fill="#262626" font-family='"Liberation Sans", "Noto Sans CJK SC", sans-serif' >RSI 14</text>
<polyline points="93.8,522.8 95,506.6 96.2,510 97.4,521 98.5,511.4 99.7,509.2 101.1,503.2 102.6,493 104.1,500 105.7,521.9 107.2,508.2 108.7,495.5 110.1,498.4 111.6,515.9 112.7,520.4 113.9,517.7 115.8,493 117.2,505.1 118.7,515.9 119.9,523.3 121,521.9 123.4,507.1 125.8,495.5 127,506.2 128.1,514.3 129.3,512.9 130.5,513.4 131.7,498.2 132.9,487.8 134.3,495.6 135.7,502.3 137.2,503.4 138.8,512.5 140.4,520.2 141.6,515.2 142.8,512.5 144,516.9 145.2,516.8 146.4,512.7 147.5,508.3 148.7,514.2 149.9,522.8 151.4,522.2 153,507.4 154.2,501.6 155.4,495.5 156.6,492.3 157.7,493 158.9,499 160.1,504 161.3,511.7 162.5,522.8 164,516.8 165.5,513.4 167.2,515.7 168.8,520.2 170.4,524.6 171.9,515.9 173.7,500.7 175.5,485.3 176.7,492.7 177.8,498.9 179,503.2 180.2,503.2 182,508.9 183.8,501.5 185,513.5 186.1,527 187.3,519.9 188.5,516.8 190.2,524.8 192,516.8 193.8,499.3 195.6,491.2 196.8,496.5 198,504 199.2,516.9 200.3,525.4 201.9,523.8 203.4,507.4 204.8,509.5 206.2,517.7 207.4,511.5 208.6,521 210.4,507.5 212.2,489.6 213.4,492.6 214.5,498.9 216.3,508.7 218.1,521 219.2,521.3 220.4,518.5 222.6,505.6 224.7,491.2 225.9,501.1 227.1,509.2 228.7,524.5 229.9,515 231.1,508.3 232.3,511.6 233.5,506.6 234.7,504.6 235.8,493 237,500.3 238.2,507.4 239.8,500 241.3,495.5 242.5,497.9 243.6,495.5 245.1,504.7 246.5,510.8 247.9,512.6 249.3,521 250.9,517.4 252.4,516.8 253.6,518.5 254.8,513.4 256,505 257.1,497.2 258.3,504.2 259.5,513.4 260.7,517.9 261.9,521 263.7,517.1 265.4,513.4 266.6,510.8 267.8,508.3 268.9,497.4 270.1,498.9 271.6,519.1 273,527.9 274.6,515.7 276.1,502.3 277.2,503.6 278.3,510.6 279.6,513.9 280.9,510.8 282.1,503.3 283.3,493.8 284.9,496.4 286.4,498.9 287.8,507.4 289.2,509.2 290.6,508.8 292,493.8 293.6,495.2 295.1,493 296.3,501.1 297.5,498.9 298.7,517 299.9,521 301.7,514.8 303.4,515.1 305.2,515.6 307,519.4 308.8,519.3 310.5,514.3 311.9,501.1 313.3,498.9 314.9,510 316.4,522.8 317.9,523.5 319.5,515.9 321.8,506.5 324.2,490.4 325.9,510.8 327.7,504.2 329.4,493.8 330.6,492.8 331.8,504 333,503.6 334.2,487.8 335.6,496 337,500.6 338.6,505.2 340.1,504.8 341.3,510.7 342.5,513.4 343.7,498.9 344.8,495.5 346.6,491.7 348.4,497.2 349.8,504.4 351.2,519.4 352.8,520.1 354.3,508.3 356.1,497.5 357.8,492.1 359,494.7 360.2,498.9 361.6,510 363,522.8 364.9,501.5 366.1,511 367.3,516.8 368.5,521.4 369.7,522.8 371.4,520.6 373.2,516.8 375,514 376.8,519.4 378.6,503.7 380.3,508.3 382.1,502 383.9,494.7 385.3,502.8 386.7,509.2 388.6,501.2 390.5,485.3 391.9,493.5 393.3,502.3 394.5,501.6 395.7,504.8 397.2,516 398.8,524.5 400.2,513.9 401.6,513.4 403.4,507.9 405.2,509.2 406.9,498.2 408.7,493.8 409.9,507.5 411.1,519.4 412.3,515.9 413.5,498.9 414.7,512.5 415.8,521 417,488.7 418.4,497.5 419.9,498.9 421.8,496.7 423.6,493 425.1,500.2 426.5,505.7 427.9,502.6 429.3,502.3 430.5,508.2 431.7,515.9 433.2,511.5 434.8,522.8 435.9,515.1 437.1,515.1 438.9,512.2 440.7,517.7 442.2,522.2 443.8,521.4 445.3,518.1 446.8,510.6 448.3,518.6 449.8,519.2 451.3,515.6 452.8,502" fill="none" stroke="#555555" stroke-width="2.2" stroke-linejoin="round"/>
<polyline points="93,528.9 94.2,506.4 95.4,511.1 96.6,526.5 97.8,513.1 98.9,510 100.3,501.8 101.8,487.5 103.3,497.3 104.9,527.7 106.4,508.7 107.9,491 109.3,495 110.8,519.4 111.9,525.6 113.1,521.8 115,487.5 116.5,504.4 117.9,519.4 119.1,529.7 120.2,527.7 122.6,507.1 125,491 126.2,505.8 127.3,517.1 128.5,515.2 129.7,515.9 130.9,494.8 132.1,480.4 133.5,491.1 134.9,500.5 136.4,501.9 138,514.7 139.6,525.4 140.8,518.5 142,514.7 143.2,520.8 144.4,520.6 145.6,515 146.7,508.8 147.9,517 149.1,528.9 150.6,528.1 152.2,507.6 153.4,499.6 154.6,491 155.8,486.6 156.9,487.5 158.1,495.9 159.3,502.9 160.5,513.5 161.7,528.9 163.2,520.7 164.7,515.9 166.3,519.1 168,525.4 169.6,531.5 171.1,519.4 172.9,498.2 174.7,476.8 175.8,487.1 177,495.8 178.2,501.8 179.4,501.7 181.2,509.6 183,499.3 184.2,516 185.3,534.8 186.5,524.9 187.7,520.6 189.4,531.7 191.2,520.6 193,496.3 194.8,485.1 196,492.3 197.2,502.9 198.3,520.7 199.5,532.5 201.1,530.3 202.6,507.6 204,510.4 205.4,521.8 206.6,513.2 207.8,526.5 209.6,507.6 211.4,482.8 212.6,487 213.7,495.8 215.5,509.4 217.3,526.5 218.4,526.8 219.6,523 221.8,505.1 223.9,485.1 225.1,498.9 226.3,510 227.9,531.3 229.1,518.1 230.3,508.8 231.5,513.4 232.7,506.4 233.8,503.7 235,487.5 236.2,497.7 237.4,507.6 238.9,497.3 240.5,491 241.7,494.3 242.8,491 244.2,503.8 245.7,512.3 247.1,514.7 248.5,526.5 250.1,521.5 251.6,520.6 252.8,523 254,515.9 255.2,504.2 256.3,493.4 257.5,503.2 258.7,515.9 259.9,522.2 261.1,526.5 262.9,521 264.6,515.9 265.8,512.3 267,508.8 268.1,493.6 269.3,495.8 270.8,523.8 272.2,536 273.8,519.1 275.3,500.5 276.4,502.3 277.5,512 278.8,516.6 280.1,512.3 281.3,501.9 282.5,488.7 284.1,492.3 285.6,495.8 287,507.6 288.4,510 289.8,509.5 291.2,488.7 292.8,490.6 294.3,487.5 295.5,498.8 296.7,495.8 297.9,520.9 299.1,526.5 300.9,517.8 302.6,518.3 304.4,518.9 306.2,524.2 307.9,524.1 309.7,517.1 311.1,498.8 312.5,495.8 314.1,511.1 315.6,528.9 317.1,530 318.7,519.4 321,506.3 323.4,483.9 325.1,512.3 326.9,503.1 328.6,488.7 329.8,487.3 331,502.9 332.2,502.2 333.4,480.4 334.8,491.7 336.2,498.1 337.8,504.5 339.3,504 340.5,512.2 341.7,515.9 342.9,495.7 344,491 345.8,485.7 347.6,493.4 349,503.3 350.4,524.2 351.9,525.1 353.5,508.8 355.2,493.8 357,486.3 358.2,490 359.4,495.8 360.8,511.2 362.2,528.9 364.1,499.3 365.3,512.5 366.5,520.6 367.7,527 368.9,528.9 370.6,526 372.4,520.6 374.2,516.7 376,524.2 377.8,502.4 379.5,508.8 381.3,500.1 383.1,489.9 384.5,501.2 385.9,510 387.8,498.9 389.7,476.8 391.1,488.2 392.5,500.5 393.7,499.5 394.9,504 396.4,519.5 398,531.3 399.4,516.6 400.8,515.9 402.6,508.3 404.4,510 406.1,494.8 407.9,488.7 409.1,507.7 410.3,524.2 411.5,519.4 412.7,495.8 413.9,514.6 415,526.5 416.2,481.6 417.6,493.8 419.1,495.8 421,492.7 422.8,487.5 424.2,497.6 425.7,505.2 427.1,500.8 428.5,500.5 429.7,508.7 430.9,519.4 432.4,513.2 434,528.9 435.1,518.2 436.3,518.3 438.1,514.3 439.9,521.8 441.4,528.2 443,527 444.5,522.5 446,512 447.5,523.1 449,524 450.5,519 452,500" fill="none" stroke="#8b008b" stroke-width="3.6" stroke-linejoin="round" stroke-linecap="round"/>
<polyline points="452,500 454.2,473.8 456.5,492 458.8,512 461.2,534 461.9,541 462.8,527 464,525.6 528.4,525.6 529.5,510 530.8,485 531.8,471.6 532.6,480 533.8,485.6 626.9,485.6 628.3,500 629.8,525 630.7,538.9 631.8,530 633.5,525.6 802,525.6" fill="none" stroke="#a5479f" stroke-width="1.1" stroke-linejoin="round"/>
<polyline points="452,500 454.2,473.8 456.5,492 458.8,512 461.2,534 461.9,541 462.8,527 464,525.6 528.4,525.6 529.5,510 530.8,485 531.8,471.6 532.6,480 533.8,485.6 626.9,485.6 628.3,500 629.8,525 630.7,538.9 631.8,530 633.5,525.6 802,525.6" fill="none" stroke="#7a0070" stroke-width="1.5" stroke-dasharray="10 2 2 2" stroke-linejoin="round"/>
<polyline points="453.5,488 456,478 458,500 460.5,520" fill="none" stroke="#d9534f" stroke-width="0.9" stroke-dasharray="3 2" opacity="0.8"/>
<text x="829.6" y="485.3" font-size="10" text-anchor="end" fill="#262626" font-family='"Liberation Sans", "Noto Sans CJK SC", sans-serif' >KDJ (9,3,3)</text>
<line x1="277.8" y1="313.5" x2="277.8" y2="389.5" stroke="#5d6d7e" stroke-width="1.9" stroke-dasharray="5.6 2.5"/>
<line x1="450.2" y1="313.5" x2="450.2" y2="389.5" stroke="#5d6d7e" stroke-width="1.9" stroke-dasharray="5.6 2.5"/>
<line x1="453.7" y1="313.5" x2="453.7" y2="389.5" stroke="#5d6d7e" stroke-width="1.9" stroke-dasharray="5.6 2.5"/>
<line x1="277.8" y1="391.5" x2="277.8" y2="467.5" stroke="#5d6d7e" stroke-width="1.9" stroke-dasharray="5.6 2.5"/>
<line x1="450.2" y1="391.5" x2="450.2" y2="467.5" stroke="#5d6d7e" stroke-width="1.9" stroke-dasharray="5.6 2.5"/>
<line x1="453.7" y1="391.5" x2="453.7" y2="467.5" stroke="#5d6d7e" stroke-width="1.9" stroke-dasharray="5.6 2.5"/>
<line x1="277.8" y1="468.5" x2="277.8" y2="544.5" stroke="#5d6d7e" stroke-width="1.9" stroke-dasharray="5.6 2.5"/>
<line x1="450.2" y1="468.5" x2="450.2" y2="544.5" stroke="#5d6d7e" stroke-width="1.9" stroke-dasharray="5.6 2.5"/>
<line x1="453.7" y1="468.5" x2="453.7" y2="544.5" stroke="#5d6d7e" stroke-width="1.9" stroke-dasharray="5.6 2.5"/>
<line x1="277.8" y1="372.7" x2="449.6" y2="365.1" stroke="#2089d8" stroke-width="5.2" stroke-linecap="round"/>
<circle cx="277.8" cy="372.7" r="12.2" fill="#1f8fdd" stroke="#3a0c8c" stroke-width="2"/>
<text x="277.8" y="378.3" font-size="16" text-anchor="middle" fill="#ffffff" font-family='"Liberation Sans", "Noto Sans CJK SC", sans-serif' >A</text>
<circle cx="449.6" cy="365.1" r="12.2" fill="#1f8fdd" stroke="#3a0c8c" stroke-width="2"/>
<text x="449.6" y="370.7" font-size="16" text-anchor="middle" fill="#ffffff" font-family='"Liberation Sans", "Noto Sans CJK SC", sans-serif' >B</text>
<line x1="277.8" y1="444.8" x2="449.6" y2="438.4" stroke="#2089d8" stroke-width="5.2" stroke-linecap="round"/>
<circle cx="277.8" cy="444.8" r="12.2" fill="#1f8fdd" stroke="#3a0c8c" stroke-width="2"/>
<text x="277.8" y="450.4" font-size="16" text-anchor="middle" fill="#ffffff" font-family='"Liberation Sans", "Noto Sans CJK SC", sans-serif' >A</text>
<circle cx="449.6" cy="438.4" r="12.2" fill="#1f8fdd" stroke="#3a0c8c" stroke-width="2"/>
<text x="449.6" y="444" font-size="16" text-anchor="middle" fill="#ffffff" font-family='"Liberation Sans", "Noto Sans CJK SC", sans-serif' >B</text>
<line x1="277.8" y1="522.3" x2="449.6" y2="512.3" stroke="#2089d8" stroke-width="5.2" stroke-linecap="round"/>
<circle cx="277.8" cy="522.3" r="12.2" fill="#1f8fdd" stroke="#3a0c8c" stroke-width="2"/>
<text x="277.8" y="527.9" font-size="16" text-anchor="middle" fill="#ffffff" font-family='"Liberation Sans", "Noto Sans CJK SC", sans-serif' >A</text>
<circle cx="449.6" cy="512.3" r="12.2" fill="#1f8fdd" stroke="#3a0c8c" stroke-width="2"/>
<text x="449.6" y="517.9" font-size="16" text-anchor="middle" fill="#ffffff" font-family='"Liberation Sans", "Noto Sans CJK SC", sans-serif' >B</text>
<text x="92.2" y="560.6" font-size="10" text-anchor="end" fill="#262626" font-family='"Liberation Sans", "Noto Sans CJK SC", sans-serif' >2020-07-20</text>
<text x="235.9" y="560.6" font-size="10" text-anchor="end" fill="#262626" font-family='"Liberation Sans", "Noto Sans CJK SC", sans-serif' >2021-05-18</text>
<text x="379.3" y="560.6" font-size="10" text-anchor="end" fill="#262626" font-family='"Liberation Sans", "Noto Sans CJK SC", sans-serif' >2022-03-14</text>
<text x="523.1" y="560.6" font-size="10" text-anchor="end" fill="#262626" font-family='"Liberation Sans", "Noto Sans CJK SC", sans-serif' >2022-12-27</text>
<text x="666.8" y="560.6" font-size="10" text-anchor="end" fill="#262626" font-family='"Liberation Sans", "Noto Sans CJK SC", sans-serif' >2023-10-03</text>
<text x="810.2" y="560.6" font-size="10" text-anchor="end" fill="#262626" font-family='"Liberation Sans", "Noto Sans CJK SC", sans-serif' >2024-06-24</text>
</svg>
</body>
</html>
